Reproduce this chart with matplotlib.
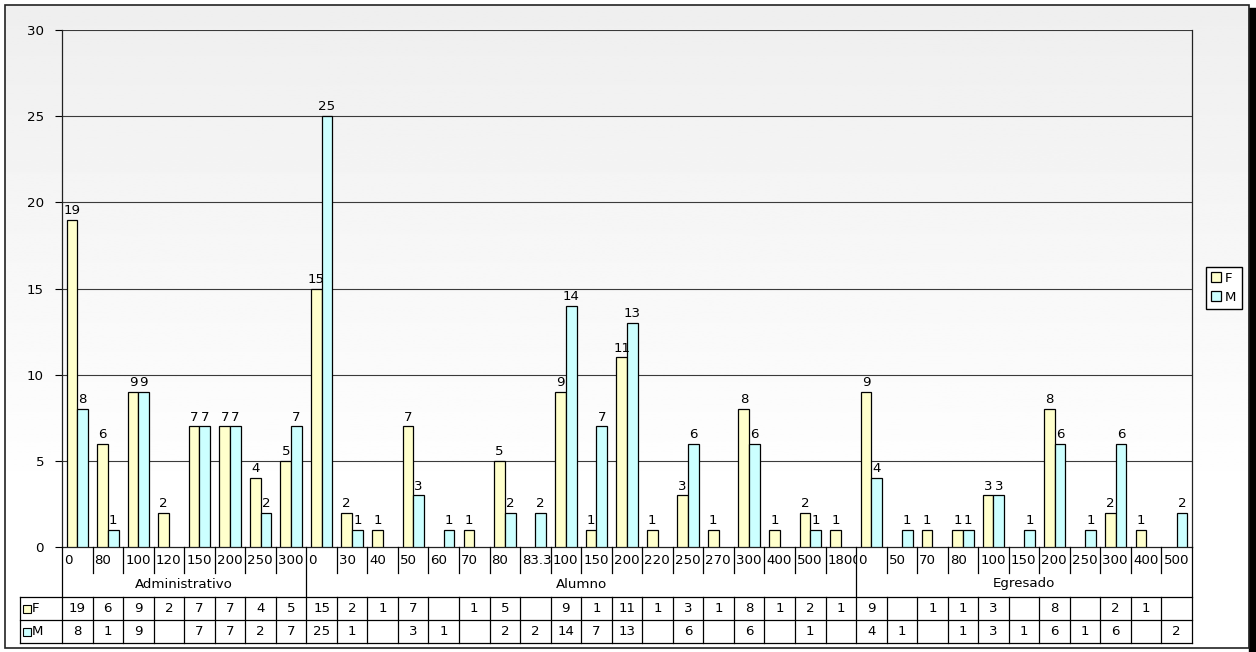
import numpy as np
import matplotlib.pyplot as plt
from matplotlib.patches import Rectangle
from matplotlib.transforms import Bbox, TransformedBbox

plt.rcParams['font.family'] = ['DejaVu Sans']
fs = 9.6
plt.rcParams['font.size'] = fs

# ---- data ----
groups = ['Administrativo', 'Alumno', 'Egresado']
cats_adm = ['0', '80', '100', '120', '150', '200', '250', '300']
cats_alu = ['0', '30', '40', '50', '60', '70', '80', '83.3', '100', '150',
            '200', '220', '250', '270', '300', '400', '500', '1800']
cats_egr = ['0', '50', '70', '80', '100', '150', '200', '250', '300', '400', '500']

f_adm = [19, 6, 9, 2, 7, 7, 4, 5]
m_adm = [8, 1, 9, None, 7, 7, 2, 7]
f_alu = [15, 2, 1, 7, None, 1, 5, None, 9, 1, 11, 1, 3, 1, 8, 1, 2, 1]
m_alu = [25, 1, None, 3, 1, None, 2, 2, 14, 7, 13, None, 6, None, 6, None, 1, None]
f_egr = [9, None, 1, 1, 3, None, 8, None, 2, 1, None]
m_egr = [4, 1, None, 1, 3, 1, 6, 1, 6, None, 2]

cats = cats_adm + cats_alu + cats_egr
vals_f = f_adm + f_alu + f_egr
vals_m = m_adm + m_alu + m_egr
group_sizes = [len(cats_adm), len(cats_alu), len(cats_egr)]

col_f = '#FFFFCC'
col_m = '#CCFFFF'

W, H = 1256, 652
fig = plt.figure(figsize=(W / 100, H / 100), dpi=100)

# background: chart area with soft gradient, border and shadow
bg = fig.add_axes([0, 0, 1, 1], zorder=0)
bg.set_xlim(0, W)
bg.set_ylim(H, 0)
bg.axis('off')
grad = np.linspace(0.935, 1.0, 200)
grad = np.clip(np.concatenate([grad, np.ones(60)]), 0, 1)
bg.imshow(np.repeat(grad[:, None], 2, axis=1), cmap='gray', vmin=0, vmax=1,
          extent=[5, 1249, 648, 5], aspect='auto', zorder=0)
bg.add_patch(Rectangle((1249, 8), 7, H, color='black', zorder=1))
bg.add_patch(Rectangle((5, 5), 1244, 643, fill=False, edgecolor='#222222', lw=1.2, zorder=2))

# main plot
x0, x1, ytop, ybot = 62, 1192, 30, 547
ax = fig.add_axes([x0 / W, 1 - ybot / H, (x1 - x0) / W, (ybot - ytop) / H], zorder=2)
ax.patch.set_alpha(0)
n = len(cats)
ax.set_xlim(0, n)
ax.set_ylim(0, 30)
ax.set_yticks(range(0, 31, 5))
ax.set_xticks([])
ax.tick_params(axis='y', direction='out', length=5, width=0.8, pad=8, labelsize=fs)
for s in ax.spines.values():
    s.set_color('#222222')
    s.set_linewidth(0.9)
ax.spines['top'].set_visible(False)
for yv in range(5, 31, 5):
    ax.axhline(yv, color='#3a3a3a', lw=0.8, zorder=0)

bw = 0.35
idx = np.arange(n)
xf = [i + 0.5 - bw / 2 for i in idx if vals_f[i] is not None]
hf = [v for v in vals_f if v is not None]
xm = [i + 0.5 + bw / 2 for i in idx if vals_m[i] is not None]
hm = [v for v in vals_m if v is not None]
ax.bar(xf, hf, width=bw, color=col_f, edgecolor='black', lw=0.9, zorder=3, label='F')
ax.bar(xm, hm, width=bw, color=col_m, edgecolor='black', lw=0.9, zorder=3, label='M')
for xx, hh in zip(xf + xm, hf + hm):
    ax.annotate(str(hh), (xx, hh), xytext=(0, 2), textcoords='offset points',
                ha='center', va='bottom', fontsize=fs, zorder=4)

ax.legend(loc='center left', bbox_to_anchor=(1206 / W, 1 - 288 / H),
          bbox_transform=fig.transFigure, fancybox=False, edgecolor='black',
          framealpha=1, handlelength=0.75, handleheight=0.75, handletextpad=0.25,
          borderpad=0.4, labelspacing=0.45, fontsize=fs, borderaxespad=0)

# data table under the axis
t_top, t_bot = 547, 643
tab = fig.add_axes([x0 / W, 1 - t_bot / H, (x1 - x0) / W, (t_bot - t_top) / H], zorder=3)
tab.set_xlim(0, n)
tab.set_ylim(t_bot, t_top)
tab.axis('off')
wc = (x1 - x0) / n
left_col = -(x0 - 20) / wc
row_cat, row_grp, row_f, row_m = 573, 597, 620, 643

bounds = np.concatenate([[0], np.cumsum(group_sizes)])
for i in range(n + 1):
    if i in bounds:
        tab.plot([i, i], [t_top, row_m], color='black', lw=0.9, clip_on=False)
    else:
        tab.plot([i, i], [t_top, row_cat], color='black', lw=0.9, clip_on=False)
        tab.plot([i, i], [row_grp, row_m], color='black', lw=0.9, clip_on=False)
for yy in [row_grp, row_f, row_m]:
    tab.plot([left_col, n], [yy, yy], color='black', lw=0.9, clip_on=False)
tab.plot([left_col, left_col], [row_grp, row_m], color='black', lw=0.9, clip_on=False)

# category labels, clipped to their own cell like the spreadsheet does
for i, c in enumerate(cats):
    t = tab.text(i + 2 / wc, 560, c, ha='left', va='center', fontsize=fs)
    t.set_clip_path(None)
    t.set_clip_box(TransformedBbox(Bbox([[i, t_top], [i + 1, row_cat]]), tab.transData))
    t.set_clip_on(True)

for g, a, b in zip(groups, bounds[:-1], bounds[1:]):
    tab.text((a + b) / 2, 584, g, ha='center', va='center', fontsize=fs)

for vals, col, lab, y_a, y_b in [(vals_f, col_f, 'F', row_grp, row_f),
                                 (vals_m, col_m, 'M', row_f, row_m)]:
    yc = (y_a + y_b) / 2
    tab.add_patch(Rectangle((left_col + 3 / wc, yc - 4), 8 / wc, 8, facecolor=col,
                            edgecolor='black', lw=0.8, clip_on=False))
    tab.text(left_col + 12 / wc, yc, lab, ha='left', va='center', fontsize=fs, clip_on=False)
    for i, v in enumerate(vals):
        if v is not None:
            tab.text(i + 0.5, yc, str(v), ha='center', va='center', fontsize=fs)

fig.savefig('out.png', dpi=100)
